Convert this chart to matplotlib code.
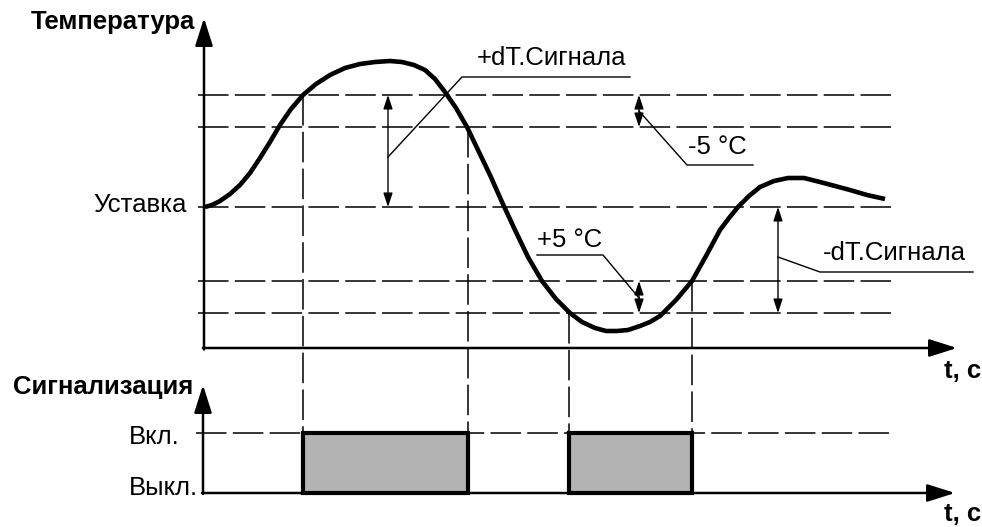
import matplotlib.pyplot as plt
from matplotlib.patches import Rectangle

plt.rcParams['font.family'] = ['Liberation Sans', 'DejaVu Sans']
plt.rcParams['lines.scale_dashes'] = False

# Кривая температури (координати схеми, вісь y вниз)
curve_t = [205, 212, 220, 230, 240, 250, 260, 270, 280, 291, 303, 316, 330, 345, 360, 375,
           390, 402, 414, 425, 435, 445, 456, 467, 478, 490, 502, 515, 528, 542, 556,
           570, 582, 595, 606, 617, 628, 640, 650, 660, 676, 692, 706, 720, 729, 738,
           749, 760, 774, 788, 804, 820, 835, 850, 867, 885]
curve_T = [207, 205, 201, 194, 185, 173, 158, 142, 125, 109, 95, 84, 75, 68, 64, 62,
           61, 62, 65, 70, 79, 92, 108, 127, 150, 175, 202, 230, 257, 281, 299,
           313, 322, 328, 331, 331, 330, 326, 322, 316, 300, 281, 256, 230, 218, 207,
           196, 187, 181, 178, 178, 182, 186, 190, 195, 199]

setpoint = 207
upper_levels = [95, 127]      # +dT.Сигнала та -5 °C
lower_levels = [281, 313]     # +5 °C та -dT.Сигнала
on_times = [303, 569]
off_times = [468, 692]
start_levels = [95, 313]
stop_levels = [127, 281]
level_on = 433
level_off = 493

fig = plt.figure(figsize=(9.82, 5.27), dpi=100)
ax = fig.add_axes([0, 0, 1, 1])
ax.set_xlim(0, 982)
ax.set_ylim(527, 0)
ax.axis('off')

dash = dict(color='black', lw=1.1, dashes=(22, 4.5))

# горизонтальні пунктири
for y in upper_levels + [setpoint] + lower_levels:
    ax.plot([198, 897], [y, y], **dash)
ax.plot([196, 893], [level_on, level_on], **dash)

# вертикальні пунктири
for t, y in zip(on_times, start_levels):
    ax.plot([t, t], [y, level_on], **dash)
for t, y in zip(off_times, stop_levels):
    ax.plot([t, t], [y, level_on], **dash)

# імпульси сигналізації
for t0, t1 in zip(on_times, off_times):
    ax.add_patch(Rectangle((t0, level_off), t1 - t0, level_on - level_off,
                           facecolor='#b3b3b3', edgecolor='black', lw=3.0, zorder=3))

# осі зі стрілками
axis_arrow = dict(arrowstyle='-|>,head_length=0.85,head_width=0.27', color='black',
                  lw=1.8, mutation_scale=20, shrinkA=0, shrinkB=0)
ax.annotate('', xy=(204, 18), xytext=(204, 349.5), arrowprops=axis_arrow)
ax.annotate('', xy=(957, 348), xytext=(203, 348), arrowprops=axis_arrow)
ax.annotate('', xy=(203, 385), xytext=(203, 494), arrowprops=axis_arrow, zorder=4)
ax.annotate('', xy=(955, 493), xytext=(202, 493), arrowprops=axis_arrow, zorder=4)

ax.plot(curve_t, curve_T, color='black', lw=3.3, solid_capstyle='butt',
        solid_joinstyle='round', zorder=5)

# розмірні стрілки
dim_arrow = dict(arrowstyle='<|-|>,head_length=0.6,head_width=0.2', color='black',
                 lw=1.0, mutation_scale=14, shrinkA=0, shrinkB=0)
ax.annotate('', xy=(388, upper_levels[0]), xytext=(388, setpoint), arrowprops=dim_arrow)
ax.annotate('', xy=(639, upper_levels[0]), xytext=(639, upper_levels[1]), arrowprops=dim_arrow)
ax.annotate('', xy=(639, lower_levels[0]), xytext=(639, lower_levels[1]), arrowprops=dim_arrow)
ax.annotate('', xy=(778, setpoint), xytext=(778, lower_levels[1]), arrowprops=dim_arrow)

# виноски
lead = dict(color='black', lw=1.0)
ax.plot([388, 462, 630], [157, 77, 77], **lead)
ax.plot([639, 687, 753], [111, 165, 165], **lead)
ax.plot([639, 603, 537], [298, 255, 255], **lead)
ax.plot([778, 820, 973], [257, 272, 272], **lead)

lbl = dict(fontsize=18.5, va='center')
ax.text(477, 58, '+dT.Сигнала', ha='left', **lbl)
ax.text(688, 147, '-5 °C', ha='left', **lbl)
ax.text(537, 240, '+5 °C', ha='left', **lbl)
ax.text(823, 253, '-dT.Сигнала', ha='left', **lbl)

ax.text(187, 205, 'Уставка', ha='right', **lbl)
ax.text(180, 437, 'Вкл.', ha='right', **lbl)
ax.text(198, 488, 'Выкл.', ha='right', **lbl)

bold = dict(fontsize=18.5, fontweight='bold', va='center')
ax.text(195, 22, 'Температура', ha='right', **bold)
ax.text(193, 387, 'Сигнализация', ha='right', **bold)
ax.text(944, 371, 't, c', ha='left', **bold)
ax.text(944, 514, 't, c', ha='left', **bold)

fig.savefig('out.png', dpi=100)
